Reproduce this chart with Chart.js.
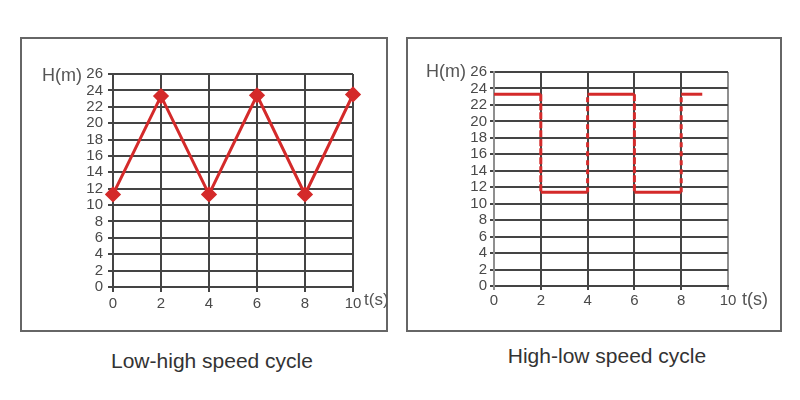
<!DOCTYPE html>
<html><head><meta charset="utf-8">
<script src="https://cdn.jsdelivr.net/npm/chart.js@4/dist/chart.umd.min.js"></script>
<style>
html,body{margin:0;padding:0;background:#fff;width:800px;height:400px;overflow:hidden;font-family:"Liberation Sans",Arial,sans-serif;}
.box{position:absolute;border:2px solid #666;box-sizing:border-box;}
canvas{position:absolute;}
.cap{position:absolute;font-size:21px;line-height:24px;color:#333;text-align:center;width:400px;}
</style></head><body>
<div class="box" style="left:20px;top:37px;width:368px;height:295px"></div>
<div class="box" style="left:406px;top:37px;width:376px;height:295px"></div>
<canvas id="c1" width="366" height="293" style="left:21px;top:38px;width:366px;height:293px"></canvas>
<canvas id="c2" width="374" height="293" style="left:407px;top:38px;width:374px;height:293px"></canvas>
<div class="cap" style="left:12px;top:349px">Low-high speed cycle</div>
<div class="cap" style="left:407px;top:344px">High-low speed cycle</div>
<script>
// ---- data ----
const lowHighTimes = [0, 2, 4, 6, 8, 10];
const lowHighHeights = [11.3, 23.3, 11.3, 23.4, 11.3, 23.5];
const highLowTimes = [0, 2, 2, 4, 4, 6, 6, 8, 8, 8.9];
const highLowHeights = [23.3, 23.3, 11.4, 11.4, 23.3, 23.3, 11.4, 11.4, 23.3, 23.3];
const yAxisTitle = 'H(m)';
const xAxisTitle = 't(s)';
const captions = ['Low-high speed cycle', 'High-low speed cycle'];

const RED = '#d42a2a';
const TICK_COLOR = '#4a4a4a';
const GRID = '#444';
const FONT = '"Liberation Sans", Arial, sans-serif';

const axisTitles = {
  id: 'axisTitles',
  afterDraw(chart, args, o) {
    const {ctx, chartArea: a} = chart;
    ctx.save();
    ctx.fillStyle = '#555';
    ctx.textBaseline = 'middle';
    ctx.font = '18px ' + FONT;
    ctx.textAlign = 'right';
    ctx.fillText(o.yTitle, a.left + o.yDx, a.top + o.yDy);
    ctx.font = o.xSize + 'px ' + FONT;
    ctx.textAlign = 'left';
    ctx.fillText(o.xTitle, a.right + o.xDx, a.bottom + o.xDy);
    ctx.restore();
  }
};

function makeScales(opts) {
  return {
    x: {
      type: 'linear', min: 0, max: 10,
      afterFit: s => { s.height = 24; },
      ticks: {stepSize: 2, autoSkip: false, color: TICK_COLOR, font: {size: 15, family: FONT}, padding: opts.xPad, maxRotation: 0},
      grid: {color: opts.xGridColor, lineWidth: 2, tickLength: opts.tl},
      border: {display: true, color: GRID, width: 2}
    },
    y: {
      type: 'linear', min: 0, max: 26,
      afterFit: s => { s.width = 40; },
      ticks: {stepSize: 2, autoSkip: false, color: TICK_COLOR, font: {size: 15, family: FONT}, padding: opts.yPad},
      grid: {color: GRID, lineWidth: 2, tickLength: opts.tl},
      border: {display: true, color: opts.yBorder, width: 2}
    }
  };
}

document.querySelectorAll('.cap').forEach((el, i) => { el.textContent = captions[i]; });

new Chart(document.getElementById('c1'), {
  type: 'line',
  data: {
    datasets: [{
      data: lowHighTimes.map((t, i) => ({x: t, y: lowHighHeights[i]})),
      borderColor: RED, backgroundColor: RED, borderWidth: 3,
      pointStyle: 'rectRot', pointRadius: 6, pointBackgroundColor: RED, pointBorderColor: RED,
      clip: 10, tension: 0
    }]
  },
  options: {
    responsive: false, animation: false,
    layout: {padding: {left: 52, right: 34, top: 36, bottom: 20}},
    plugins: {legend: {display: false}, tooltip: {enabled: false},
      axisTitles: {yTitle: yAxisTitle, xTitle: xAxisTitle, yDx: -31, yDy: 2, xDx: 11, xDy: 13, xSize: 17}},
    scales: makeScales({xPad: 3, yPad: 5, tl: 5, xGridColor: GRID, yBorder: GRID})
  },
  plugins: [axisTitles]
});

new Chart(document.getElementById('c2'), {
  type: 'line',
  data: {
    datasets: [{
      data: highLowTimes.map((t, i) => ({x: t, y: highLowHeights[i]})),
      borderColor: RED, backgroundColor: RED, borderWidth: 3,
      pointRadius: 0, clip: 6, tension: 0,
      segment: {
        borderDash: ctx => ctx.p0.parsed.x === ctx.p1.parsed.x ? [5, 4] : undefined
      }
    }]
  },
  options: {
    responsive: false, animation: false,
    layout: {padding: {left: 47, right: 53, top: 34, bottom: 21}},
    plugins: {legend: {display: false}, tooltip: {enabled: false},
      axisTitles: {yTitle: yAxisTitle, xTitle: xAxisTitle, yDx: -28, yDy: 0, xDx: 14, xDy: 14, xSize: 18}},
    scales: makeScales({xPad: 2, yPad: 3, tl: 4,
      xGridColor: c => (c.tick && (c.tick.value === 0 || c.tick.value === 10)) ? '#8f8f8f' : GRID,
      yBorder: '#8f8f8f'})
  },
  plugins: [axisTitles]
});
</script>
</body></html>
